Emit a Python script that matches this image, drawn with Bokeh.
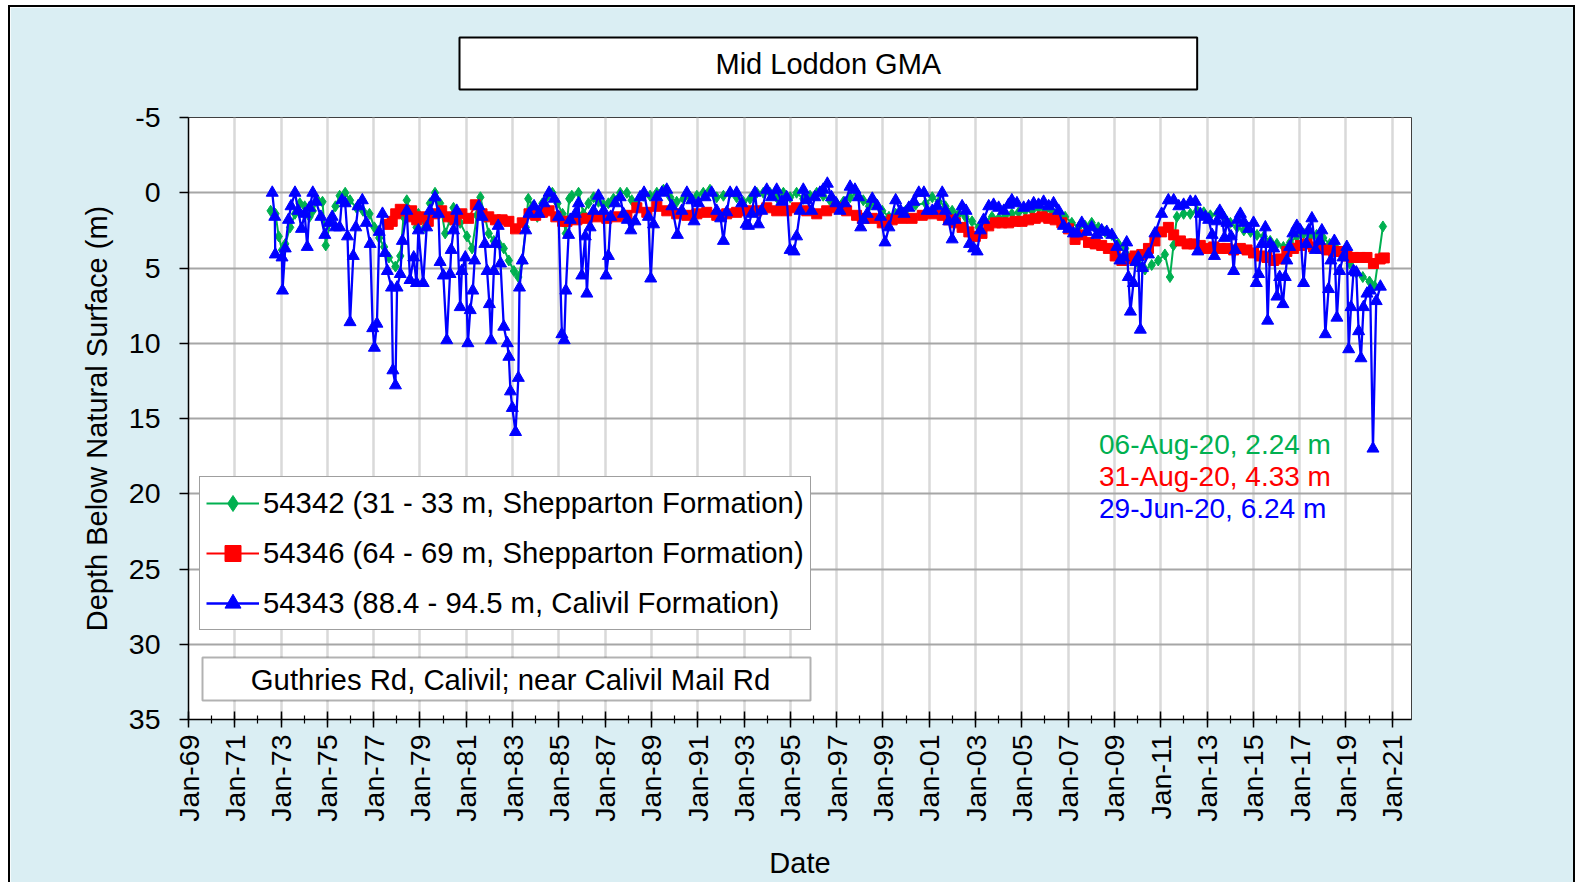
import math
from datetime import datetime, timedelta
from bokeh.plotting import figure
from bokeh.models import (Range1d, FixedTicker, DatetimeTickFormatter, Label,
                          BoxAnnotation, Legend, LegendItem, Title)
from bokeh.embed import file_html
from bokeh.resources import INLINE

# ---------------- data (decimal years, depth below natural surface in m) ----------------
green_t = [1972.55, 1972.76, 1972.90, 1973.04, 1973.18, 1973.39, 1973.60, 1973.81, 1974.02, 1974.23,
           1974.37, 1974.58, 1974.79, 1974.93, 1975.14, 1975.35, 1975.53, 1975.77, 1975.98, 1976.26,
           1976.54, 1976.82, 1977.03, 1977.24, 1977.45, 1977.66, 1977.94, 1978.15, 1978.29, 1978.43,
           1978.64, 1978.85, 1978.93, 1979.22, 1979.43, 1979.65, 1979.87, 1980.09, 1980.30, 1980.45,
           1980.74, 1981.03, 1981.25, 1981.46, 1981.61, 1981.80, 1981.97, 1982.19, 1982.41, 1982.62,
           1982.84, 1983.06, 1983.25, 1983.42, 1983.57, 1983.68, 1983.86, 1984.07, 1984.29, 1984.51,
           1984.72, 1984.94, 1985.16, 1985.30, 1985.45, 1985.56, 1985.85, 1986.06, 1986.28, 1986.50,
           1986.71, 1986.93, 1987.14, 1987.36, 1987.65, 1987.94, 1988.15, 1988.37, 1988.65, 1988.94,
           1989.23, 1989.52, 1989.81, 1990.09, 1990.38, 1990.67, 1990.96, 1991.24, 1991.53, 1991.82,
           1992.11, 1992.40, 1992.68, 1992.97, 1993.26, 1993.55, 1993.83, 1994.12, 1994.41, 1994.70,
           1994.99, 1995.27, 1995.56, 1995.85, 1996.14, 1996.42, 1996.71, 1997.00, 1997.29, 1997.58,
           1997.86, 1998.15, 1998.40, 1998.68, 1998.97, 1999.26, 1999.55, 1999.98, 2000.41, 2000.84,
           2001.13, 2001.41, 2001.70, 2001.99, 2002.27, 2002.56, 2002.85, 2003.14, 2003.43, 2003.71,
           2004.00, 2004.29, 2004.57, 2004.86, 2005.15, 2005.44, 2005.72, 2006.01, 2006.30, 2006.59,
           2006.87, 2007.16, 2007.45, 2007.74, 2008.02, 2008.31, 2008.60, 2008.89, 2009.17, 2009.46,
           2009.75, 2010.03, 2010.32, 2010.61, 2010.89, 2011.18, 2011.40, 2011.55, 2011.70, 2011.99,
           2012.28, 2012.57, 2012.86, 2013.14, 2013.43, 2013.73, 2014.01, 2014.30, 2014.59, 2014.88,
           2015.16, 2015.45, 2015.73, 2016.02, 2016.30, 2016.59, 2016.88, 2017.17, 2017.45, 2017.73,
           2018.02, 2018.30, 2018.59, 2018.88, 2019.17, 2019.45, 2019.73, 2020.02, 2020.24, 2020.60]
green_d = [1.2, 1.4, 2.9, 3.8, 3.4, 2.3, 1.4, 0.7, 0.9, 1.6,
           1.2, 0.5, 0.6, 3.5, 1.8, 0.9, 0.2, 0.0, 0.5, 1.0,
           1.2, 1.4, 2.3, 3.0, 3.6, 4.3, 4.9, 4.2, 1.6, 0.5,
           1.4, 2.3, 1.4, 2.3, 0.7, 0.0, 0.7, 2.7, 1.8, 1.0,
           2.0, 2.9, 3.7, 1.5, 0.3, 1.6, 2.7, 3.2, 3.4, 3.7,
           4.5, 5.2, 5.6, 4.5, 2.3, 0.4, 0.9, 1.6, 0.7, 0.2,
           0.0, 0.7, 1.4, 2.7, 0.4, 0.2, 0.0, 1.4, 0.7, 0.3,
           0.6, 0.8, 0.7, 0.4, 0.0, 0.0, 0.5, 0.7, 0.2, 0.2,
           0.0, -0.2, 0.3, 0.6, 0.4, 0.3, 0.2, 0.0, -0.2, 0.3,
           0.2, 0.0, 0.3, 0.6, 0.4, 0.0, 0.0, 0.0, 0.3, 0.0,
           0.3, 0.0, 0.4, 0.2, 0.0, 0.2, 0.5, 0.7, 0.6, 0.3,
           0.0, 0.5, 0.9, 0.7, 1.2, 1.6, 1.4, 1.2, 0.8, 0.7,
           0.3, 0.6, 0.9, 1.2, 1.4, 1.6, 1.9, 2.3, 1.9, 1.6,
           1.7, 1.5, 1.4, 1.3, 1.2, 1.2, 1.0, 1.2, 1.2, 1.4,
           1.6, 2.0, 2.3, 2.2, 2.0, 2.3, 2.6, 2.8, 3.4, 3.7,
           4.3, 4.7, 5.1, 4.8, 4.5, 4.1, 5.6, 3.5, 1.6, 1.4,
           1.4, 1.2, 1.3, 1.5, 1.4, 1.6, 2.0, 2.3, 2.5, 2.6,
           2.8, 2.9, 3.2, 3.4, 3.6, 3.3, 2.9, 2.7, 2.9, 2.8,
           3.0, 3.4, 3.7, 4.1, 4.7, 5.3, 5.6, 5.9, 6.2, 2.24]

red_t = [1977.63, 1977.80, 1977.95, 1978.15, 1978.35, 1978.55, 1978.64, 1978.86, 1979.07, 1979.36,
         1979.65, 1979.94, 1980.23, 1980.52, 1980.81, 1981.10, 1981.39, 1981.68, 1981.97, 1982.26,
         1982.55, 1982.84, 1983.13, 1983.42, 1983.71, 1984.00, 1984.29, 1984.58, 1984.87, 1985.16,
         1985.35, 1985.78, 1986.21, 1986.64, 1987.07, 1987.50, 1987.94, 1988.37, 1988.80, 1989.23,
         1989.66, 1990.09, 1990.53, 1990.96, 1991.39, 1991.82, 1992.25, 1992.68, 1993.12, 1993.55,
         1993.98, 1994.41, 1994.84, 1995.27, 1995.71, 1996.14, 1996.57, 1997.00, 1997.43, 1997.86,
         1998.11, 1998.54, 1998.97, 1999.40, 1999.83, 2000.26, 2000.70, 2001.13, 2001.56, 2001.84,
         2002.13, 2002.42, 2002.71, 2002.99, 2003.28, 2003.57, 2003.86, 2004.14, 2004.43, 2004.72,
         2005.01, 2005.29, 2005.58, 2005.87, 2006.16, 2006.44, 2006.73, 2007.02, 2007.30, 2007.59,
         2007.88, 2008.17, 2008.45, 2008.74, 2009.03, 2009.32, 2009.60, 2009.89, 2010.18, 2010.47,
         2010.75, 2011.04, 2011.33, 2011.56, 2011.85, 2012.14, 2012.42, 2012.71, 2013.00, 2013.29,
         2013.58, 2013.86, 2014.15, 2014.44, 2014.73, 2015.01, 2015.30, 2015.59, 2015.88, 2016.17,
         2016.45, 2016.74, 2017.03, 2017.32, 2017.60, 2017.89, 2018.18, 2018.47, 2018.76, 2019.04,
         2019.33, 2019.62, 2019.91, 2020.19, 2020.48, 2020.66]
red_d = [2.1, 1.9, 1.4, 1.1, 1.2, 1.6, 1.2, 1.8, 1.6, 1.9,
         1.4, 1.2, 1.6, 1.8, 1.4, 1.7, 0.8, 1.4, 1.6, 1.8,
         1.8, 1.9, 2.4, 2.0, 1.4, 1.5, 1.3, 1.2, 1.6, 1.9,
         1.9, 1.8, 1.7, 1.6, 1.7, 1.6, 1.5, 1.0, 1.3, 0.9,
         1.2, 1.4, 1.5, 1.4, 1.3, 1.5, 1.4, 1.3, 1.2, 1.2,
         1.0, 1.2, 1.2, 1.0, 1.2, 1.4, 1.2, 1.0, 1.2, 1.5,
         1.7, 1.7, 2.0, 1.8, 1.7, 1.7, 1.5, 1.4, 1.5, 1.8,
         2.0, 2.3, 2.6, 2.9, 2.7, 2.2, 2.0, 2.0, 2.0, 1.9,
         1.9, 1.8, 1.7, 1.6, 1.7, 1.8, 2.0, 2.4, 3.1, 2.8,
         3.3, 3.4, 3.5, 3.7, 4.2, 4.5, 4.4, 4.2, 4.1, 3.7,
         3.2, 2.6, 2.3, 2.8, 3.2, 3.4, 3.4, 3.5, 3.7, 3.6,
         3.7, 3.7, 3.8, 3.7, 3.8, 4.0, 4.2, 4.3, 4.5, 4.4,
         3.9, 3.7, 3.5, 3.4, 3.6, 3.7, 3.8, 3.9, 3.9, 4.2,
         4.3, 4.3, 4.3, 4.7, 4.4, 4.33]

blue_t = [1972.62, 1972.73, 1972.75, 1973.04, 1973.06, 1973.18, 1973.32, 1973.43, 1973.60, 1973.74,
          1973.88, 1974.02, 1974.13, 1974.23, 1974.37, 1974.51, 1974.72, 1974.89, 1975.07, 1975.21,
          1975.35, 1975.53, 1975.63, 1975.77, 1975.87, 1975.98, 1976.12, 1976.23, 1976.33, 1976.51,
          1976.68, 1976.85, 1976.96, 1977.03, 1977.14, 1977.24, 1977.38, 1977.49, 1977.59, 1977.77,
          1977.83, 1977.94, 1978.01, 1978.15, 1978.24, 1978.43, 1978.57, 1978.73, 1978.85, 1978.93,
          1979.14, 1979.29, 1979.43, 1979.65, 1979.80, 1979.87, 1980.01, 1980.16, 1980.30, 1980.35,
          1980.45, 1980.59, 1980.74, 1980.81, 1980.96, 1981.07, 1981.17, 1981.28, 1981.36, 1981.54,
          1981.68, 1981.80, 1981.90, 1982.00, 1982.07, 1982.19, 1982.26, 1982.38, 1982.48, 1982.62,
          1982.77, 1982.84, 1982.91, 1982.99, 1983.13, 1983.25, 1983.30, 1983.42, 1983.57, 1983.71,
          1983.93, 1984.14, 1984.36, 1984.58, 1984.80, 1984.99, 1985.13, 1985.23, 1985.30, 1985.42,
          1985.49, 1985.71, 1985.85, 1985.99, 1986.14, 1986.21, 1986.35, 1986.50, 1986.71, 1986.93,
          1987.04, 1987.14, 1987.24, 1987.43, 1987.65, 1987.79, 1987.96, 1988.11, 1988.29, 1988.51,
          1988.68, 1988.87, 1988.97, 1989.09, 1989.23, 1989.45, 1989.66, 1989.88, 1990.12, 1990.31,
          1990.53, 1990.74, 1990.84, 1991.03, 1991.32, 1991.60, 1991.82, 1991.99, 1992.11, 1992.25,
          1992.40, 1992.68, 1992.90, 1993.09, 1993.19, 1993.33, 1993.47, 1993.62, 1993.76, 1993.98,
          1994.19, 1994.41, 1994.63, 1994.84, 1994.99, 1995.16, 1995.27, 1995.42, 1995.56, 1995.71,
          1995.92, 1996.06, 1996.28, 1996.42, 1996.60, 1996.78, 1996.97, 1997.14, 1997.36, 1997.58,
          1997.79, 1997.94, 1998.04, 1998.15, 1998.32, 1998.54, 1998.76, 1998.90, 1999.09, 1999.26,
          1999.55, 1999.76, 1999.91, 2000.12, 2000.34, 2000.55, 2000.77, 2000.91, 2001.13, 2001.34,
          2001.56, 2001.70, 2001.84, 2001.99, 2002.13, 2002.42, 2002.59, 2002.74, 2002.92, 2003.07,
          2003.21, 2003.35, 2003.57, 2003.78, 2004.00, 2004.22, 2004.43, 2004.57, 2004.79, 2005.08,
          2005.29, 2005.51, 2005.72, 2005.94, 2006.16, 2006.37, 2006.59, 2006.80, 2007.02, 2007.23,
          2007.38, 2007.59, 2007.81, 2008.02, 2008.24, 2008.45, 2008.67, 2008.89, 2009.10, 2009.24,
          2009.39, 2009.53, 2009.60, 2009.69, 2009.82, 2009.92, 2010.03, 2010.12, 2010.21, 2010.47,
          2010.75, 2011.04, 2011.33, 2011.56, 2011.78, 2011.99, 2012.28, 2012.50, 2012.60, 2012.71,
          2012.93, 2013.07, 2013.22, 2013.32, 2013.43, 2013.55, 2013.65, 2013.75, 2013.86, 2014.04,
          2014.15, 2014.22, 2014.32, 2014.44, 2014.61, 2014.80, 2015.01, 2015.13, 2015.23, 2015.37,
          2015.52, 2015.62, 2015.73, 2015.88, 2016.02, 2016.14, 2016.28, 2016.38, 2016.45, 2016.57,
          2016.71, 2016.88, 2017.03, 2017.17, 2017.29, 2017.39, 2017.53, 2017.68, 2017.86, 2017.96,
          2018.11, 2018.25, 2018.35, 2018.50, 2018.61, 2018.73, 2018.87, 2019.04, 2019.12, 2019.22,
          2019.33, 2019.45, 2019.55, 2019.65, 2019.76, 2019.91, 2020.05, 2020.17, 2020.31, 2020.49]
blue_d = [0.0, 1.6, 4.1, 4.3, 6.5, 3.7, 1.8, 0.9, 0.0, 1.2,
          2.4, 1.4, 3.6, 1.0, 0.0, 0.6, 1.6, 2.8, 2.0, 1.6,
          2.3, 2.3, 0.5, 0.7, 2.9, 8.6, 4.2, 2.3, 0.9, 0.5,
          2.0, 3.4, 9.0, 10.3, 8.7, 2.6, 1.4, 4.0, 5.2, 6.3,
          11.8, 12.8, 6.3, 5.4, 3.2, 1.2, 5.8, 4.3, 6.0, 2.5,
          6.0, 2.3, 1.2, 0.3, 1.4, 4.6, 5.5, 9.8, 5.4, 3.8,
          2.5, 1.2, 7.6, 5.2, 4.3, 10.0, 7.8, 6.5, 4.5, 0.9,
          1.6, 3.4, 5.2, 7.4, 9.8, 5.2, 3.4, 2.2, 4.7, 8.9,
          10.0, 10.9, 13.2, 14.3, 15.9, 12.3, 6.3, 4.5, 2.5, 1.4,
          0.9, 1.4, 0.7, 0.0, 0.4, 1.6, 9.4, 9.8, 6.5, 2.8,
          1.8, 1.4, 0.7, 5.5, 2.9, 6.7, 2.3, 1.2, 0.2, 1.2,
          5.5, 4.2, 1.6, 0.7, 0.3, 1.4, 1.8, 2.5, 1.9, 0.3,
          0.0, 1.6, 5.7, 2.1, 0.3, 0.0, -0.2, 0.9, 2.8, 1.2,
          0.0, 0.5, 1.9, 0.7, 0.3, 0.0, 1.2, 1.7, 3.2, 1.3,
          0.0, 0.0, 0.7, 2.1, 2.2, 1.4, 0.0, 2.1, 1.2, -0.2,
          0.3, -0.2, 0.6, 0.3, 3.8, 3.9, 2.9, 1.2, -0.2, 0.5,
          1.2, 0.3, 0.0, -0.2, -0.6, 0.3, 0.7, 1.2, 0.7, -0.4,
          -0.2, 0.3, 2.3, 1.8, 1.4, 0.4, 0.9, 1.6, 3.3, 2.3,
          0.5, 1.2, 1.4, 1.0, 0.6, 0.0, 0.0, 1.2, 1.2, 0.9,
          0.0, 1.2, 1.9, 3.1, 1.8, 0.9, 1.2, 3.4, 3.7, 3.9,
          2.5, 1.8, 0.9, 0.8, 1.0, 1.2, 0.8, 0.5, 0.7, 1.0,
          0.9, 0.7, 0.8, 0.6, 0.9, 0.7, 1.2, 2.2, 2.4, 2.7,
          2.7, 2.0, 2.6, 2.3, 2.8, 2.5, 2.6, 2.8, 3.6, 4.5,
          4.3, 3.3, 5.6, 7.9, 6.0, 4.6, 4.3, 9.1, 5.0, 4.1,
          2.7, 1.4, 0.5, 0.5, 0.9, 0.8, 0.6, 0.6, 3.9, 1.4,
          1.6, 1.8, 2.8, 4.2, 1.9, 1.2, 1.5, 3.0, 2.0, 2.9,
          5.2, 3.8, 1.8, 1.4, 2.0, 2.4, 2.0, 6.0, 5.4, 3.4,
          2.3, 8.5, 3.4, 3.7, 6.9, 5.6, 7.4, 5.6, 4.5, 3.6,
          2.7, 2.2, 2.5, 6.0, 3.4, 2.5, 1.7, 3.8, 3.2, 2.5,
          9.4, 6.4, 4.5, 3.2, 8.3, 5.2, 4.3, 3.6, 10.4, 7.6,
          5.2, 5.3, 9.2, 11.0, 7.6, 6.7, 6.5, 17.0, 7.2, 6.24]

series_labels = ["54342 (31 - 33 m, Shepparton Formation)",
                 "54346 (64 - 69 m, Shepparton Formation)",
                 "54343 (88.4 - 94.5 m, Calivil Formation)"]
latest_texts = ["06-Aug-20, 2.24 m", "31-Aug-20, 4.33 m", "29-Jun-20,  6.24 m"]
title_text = "Mid Loddon GMA"
site_text = "Guthries Rd, Calivil; near Calivil Mail Rd"
tick_years = list(range(1969, 2022, 2))
minor_years = list(range(1969, 2022, 1))
y_ticks = [-5, 0, 5, 10, 15, 20, 25, 30, 35]

# ---------------- helpers ----------------
EPOCH = datetime(1970, 1, 1)


def to_dt(y):
    yr = int(math.floor(y))
    return datetime(yr, 1, 1) + timedelta(days=(y - yr) * 365.25)


def ms(d):
    return (d - EPOCH).total_seconds() * 1000.0


FONT = "Liberation Sans"
GREEN, RED, BLUE = "#00B050", "#FF0000", "#0000FF"
BG = "#DAEEF3"

W, H = 1563, 875
BL, BT = 178, 110
FRAME_W, FRAME_H = 1219, 600
BR = W - BL - FRAME_W
BB = H - BT - FRAME_H


def sx(cx):  # canvas x -> frame screen x
    return cx - BL


def sy(cy):  # canvas y (from top) -> frame screen y (from bottom)
    return (BT + FRAME_H) - cy


p = figure(width=W, height=H, output_backend="svg", toolbar_location=None,
           x_axis_type="datetime",
           x_range=Range1d(datetime(1969, 1, 1), datetime(2021, 11, 1)),
           y_range=Range1d(35, -5),
           min_border_left=BL, min_border_right=BR, min_border_top=BT, min_border_bottom=BB)
p.styles = {"margin-left": "8px", "margin-top": "5px", "box-sizing": "content-box",
            "border-left": "2px solid black", "border-top": "2px solid black",
            "border-right": "2px solid black"}
p.border_fill_color = BG
p.background_fill_color = "white"
p.outline_line_color = "#404040"
p.outline_line_width = 1

# title box (in the panel above the frame)
title = Title(text=title_text, align="left", offset=449 - BL, standoff=56,
              text_font=FONT, text_font_size="29px", text_font_style="normal",
              text_color="black", border_line_color="black", border_line_width=2,
              background_fill_color="white",
              padding=dict(left=256, right=256, top=10, bottom=10))
p.add_layout(title, "above")

# axes
p.xaxis.ticker = FixedTicker(ticks=[ms(datetime(y, 1, 1)) for y in tick_years],
                             minor_ticks=[ms(datetime(y, 1, 1)) for y in minor_years])
fmt = "%b-%y"
p.xaxis.formatter = DatetimeTickFormatter(years=fmt, months=fmt, days=fmt, hours=fmt,
                                          minutes=fmt, seconds=fmt, milliseconds=fmt,
                                          microseconds=fmt, hourmin=fmt, minsec=fmt)
p.xaxis.major_label_orientation = math.pi / 2
p.yaxis.ticker = FixedTicker(ticks=y_ticks)
p.yaxis.major_label_overrides = {v: str(v) for v in y_ticks}
p.xaxis.axis_label = "Date"
p.yaxis.axis_label = "Depth Below Natural Surface (m)"
for ax in (p.xaxis[0], p.yaxis[0]):
    ax.axis_label_text_font = FONT
    ax.axis_label_text_font_size = "29px"
    ax.axis_label_text_font_style = "normal"
    ax.axis_label_text_color = "black"
    ax.major_label_text_font = FONT
    ax.major_label_text_font_size = "28.5px"
    ax.major_label_text_color = "black"
    ax.axis_line_color = "black"
    ax.axis_line_width = 1.5
    ax.major_tick_line_color = "black"
    ax.major_tick_line_width = 1.5
    ax.minor_tick_line_color = "black"
    ax.minor_tick_line_width = 1.2
p.xaxis.major_tick_in = 8
p.xaxis.major_tick_out = 8
p.xaxis.minor_tick_in = 4
p.xaxis.minor_tick_out = 4
p.xaxis.major_label_standoff = 7
p.xaxis.axis_label_standoff = 22
p.yaxis.major_tick_in = 0
p.yaxis.major_tick_out = 9
p.yaxis.minor_tick_line_color = None
p.yaxis.major_label_standoff = 19
p.yaxis.axis_label_standoff = 13

p.xgrid.grid_line_color = "#D9D9D9"
p.xgrid.grid_line_width = 2.5
p.ygrid.grid_line_color = "#A6A6A6"
p.ygrid.grid_line_width = 2

# series
gx = [to_dt(t) for t in green_t]
rx = [to_dt(t) for t in red_t]
bx = [to_dt(t) for t in blue_t]

gl = p.line(gx, green_d, line_color=GREEN, line_width=2)
gs = p.scatter(gx, green_d, marker="diamond", size=11, fill_color=GREEN, line_color=GREEN)
rl = p.line(rx, red_d, line_color=RED, line_width=2)
rs = p.scatter(rx, red_d, marker="square", size=10, fill_color=RED, line_color=RED)
bl = p.line(bx, blue_d, line_color=BLUE, line_width=2.3)
bs = p.scatter(bx, blue_d, marker="triangle", size=12, fill_color=BLUE, line_color=BLUE)

# legend
legend = Legend(items=[LegendItem(label=series_labels[0], renderers=[gl, gs]),
                       LegendItem(label=series_labels[1], renderers=[rl, rs]),
                       LegendItem(label=series_labels[2], renderers=[bl, bs])],
                location=(11, 89))
legend.label_text_font = FONT
legend.label_text_font_size = "29.3px"
legend.label_text_color = "black"
legend.glyph_width = 53
legend.glyph_height = 40
legend.label_height = 40
legend.spacing = 10
legend.padding = 6
legend.margin = 0
legend.label_standoff = 4
legend.border_line_color = "#404040"
legend.border_line_width = 1
legend.background_fill_color = "white"
legend.background_fill_alpha = 1
p.add_layout(legend)

# site box
p.add_layout(BoxAnnotation(left=sx(192), right=sx(800), top=sy(648), bottom=sy(691),
                           left_units="screen", right_units="screen",
                           top_units="screen", bottom_units="screen",
                           fill_color="white", fill_alpha=1, line_color="black", line_width=2))
p.add_layout(Label(x=sx(500), y=sy(670), x_units="screen", y_units="screen", text=site_text,
                   text_font=FONT, text_font_size="29.3px", text_color="black",
                   text_align="center", text_baseline="middle"))

# latest readings
for txt, col, cy in zip(latest_texts, [GREEN, RED, BLUE], [434.5, 466.5, 499]):
    p.add_layout(Label(x=sx(1088.5), y=sy(cy), x_units="screen", y_units="screen", text=txt,
                       text_font=FONT, text_font_size="28px", text_color=col,
                       text_align="left", text_baseline="middle"))

open("out.html", "w").write(file_html(p, INLINE))
